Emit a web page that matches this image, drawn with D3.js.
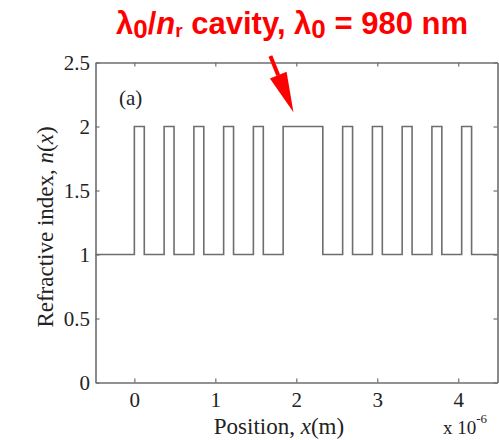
<!DOCTYPE html>
<html><head><meta charset="utf-8">
<script src="https://cdn.jsdelivr.net/npm/d3@7"></script>
<style>body{margin:0;background:#fff}svg{display:block}</style>
</head><body>
<svg id="c" width="499" height="440"></svg>
<script>
// Layer boundaries (micrometres) and refractive index of each segment
const positions = [-0.48, 0, 0.1225, 0.3675, 0.49, 0.735, 0.8575, 1.1025, 1.225, 1.47, 1.5925, 1.8375, 2.3275, 2.5725, 2.695, 2.94, 3.0625, 3.3075, 3.43, 3.675, 3.7975, 4.0425, 4.165, 4.485];
const indices   = [1, 2, 1, 2, 1, 2, 1, 2, 1, 2, 1, 2, 1, 2, 1, 2, 1, 2, 1, 2, 1, 2, 1, 1];
const xTicks = [0, 1, 2, 3, 4];
const yTicks = [0, 0.5, 1, 1.5, 2, 2.5];
const yTickLabels = ["0", "0.5", "1", "1.5", "2", "2.5"];

const svg = d3.select("#c");
const L = 95.5, R = 497.5, T = 62.5, B = 382.5;
const x = d3.scaleLinear().domain([-0.48, 4.485]).range([L, R]);
const y = d3.scaleLinear().domain([0, 2.5]).range([B, T]);
const gray = "#6e6e6e";
const serif = "'Liberation Serif','Times New Roman',serif";

// data line
const data = positions.map((p, i) => ({p, n: indices[i]}));
svg.append("path").datum(data)
  .attr("d", d3.line().x(d => x(d.p)).y(d => y(d.n)).curve(d3.curveStepAfter))
  .attr("fill", "none").attr("stroke", gray).attr("stroke-width", 1.6);

// axes (box with inward ticks)
const tl = 4;
const axB = svg.append("g").attr("transform", `translate(0,${B})`)
  .call(d3.axisBottom(x).tickValues(xTicks).tickSizeInner(-tl).tickSizeOuter(0).tickPadding(10).tickFormat(d3.format("d")));
const axT = svg.append("g").attr("transform", `translate(0,${T})`)
  .call(d3.axisTop(x).tickValues(xTicks).tickSizeInner(-tl).tickSizeOuter(0).tickFormat(""));
const axL = svg.append("g").attr("transform", `translate(${L},0)`)
  .call(d3.axisLeft(y).tickValues(yTicks).tickSizeInner(-tl).tickSizeOuter(0).tickPadding(5.5).tickFormat((d,i) => yTickLabels[i]));
const axR = svg.append("g").attr("transform", `translate(${R},0)`)
  .call(d3.axisRight(y).tickValues(yTicks).tickSizeInner(-tl).tickSizeOuter(0).tickFormat(""));
[axB, axT, axL, axR].forEach(g => {
  g.select(".domain").attr("stroke", gray).attr("stroke-width", 1.6);
  g.selectAll(".tick line").attr("stroke", gray).attr("stroke-width", 1.2);
  g.selectAll("text").attr("font-family", serif).attr("font-size", 21).attr("fill", "#222");
});
axL.selectAll(".tick text").attr("dy", "0.34em");

// "(a)"
svg.append("text").attr("x", 119).attr("y", 105).attr("font-family", serif).attr("font-size", 21).attr("fill", "#222").text("(a)");

// x label
const xl = svg.append("text").attr("x", 279).attr("y", 434).attr("text-anchor", "middle")
  .attr("font-family", serif).attr("font-size", 23).attr("fill", "#222");
xl.append("tspan").text("Position, ");
xl.append("tspan").attr("font-style", "italic").text("x");
xl.append("tspan").text("(m)");

// multiplier
const mult = svg.append("text").attr("x", 443).attr("y", 434).attr("font-family", serif).attr("font-size", 19).attr("fill", "#222");
mult.append("tspan").text("x 10");
mult.append("tspan").attr("dy", -11).attr("font-size", 13).text("-6");

// y label
const yl = svg.append("text").attr("transform", "translate(53,227) rotate(-90)").attr("text-anchor", "middle")
  .attr("font-family", serif).attr("font-size", 23).attr("fill", "#222");
yl.append("tspan").text("Refractive index, ");
yl.append("tspan").attr("font-style", "italic").text("n");
yl.append("tspan").text("(");
yl.append("tspan").attr("font-style", "italic").text("x");
yl.append("tspan").text(")");

// title
const red = "#ff0000";
const t = svg.append("text").attr("x", 292).attr("y", 34).attr("text-anchor", "middle")
  .attr("font-family", "'Liberation Sans',Arial,sans-serif").attr("font-weight", "bold").attr("font-size", 31).attr("fill", red);
t.append("tspan").text("λ");
t.append("tspan").attr("dy", 4).attr("font-size", 26).text("0");
t.append("tspan").attr("dy", -4).text("/");
t.append("tspan").attr("font-style", "italic").text("n");
t.append("tspan").attr("dy", 3).attr("font-size", 19).text("r");
t.append("tspan").attr("dy", -3).text(" cavity, λ");
t.append("tspan").attr("dy", 4).attr("font-size", 26).text("0");
t.append("tspan").attr("dy", -4).text(" = 980 nm");

// arrow annotation (data coordinates)
const tail = [x(1.68), y(2.55)], tip = [x(1.965), y(2.112)];
const ang = Math.atan2(tip[1] - tail[1], tip[0] - tail[0]);
const hl = 40, hw = 9;
const bx = tip[0] - hl * Math.cos(ang), by = tip[1] - hl * Math.sin(ang);
svg.append("line").attr("x1", tail[0]).attr("y1", tail[1]).attr("x2", bx).attr("y2", by)
  .attr("stroke", red).attr("stroke-width", 4);
svg.append("path").attr("fill", red).attr("d",
  `M${tip[0]},${tip[1]}L${bx + hw*Math.sin(ang)},${by - hw*Math.cos(ang)}L${bx - hw*Math.sin(ang)},${by + hw*Math.cos(ang)}Z`);
</script>
</body></html>
